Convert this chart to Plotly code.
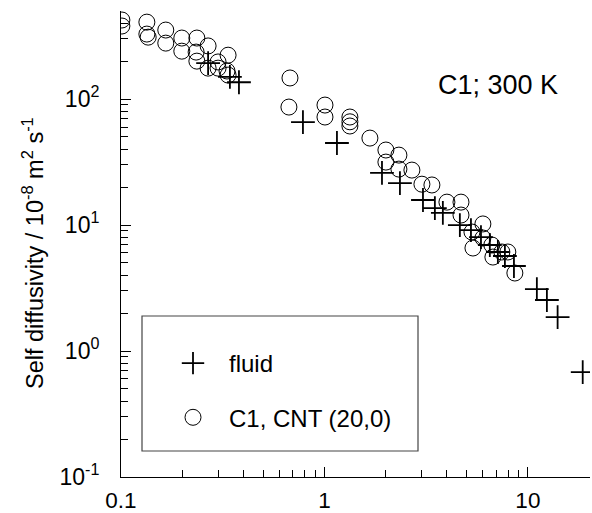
import plotly.graph_objects as go
import numpy as np

# fluid (bulk) data
fluid_x = [0.268, 0.343, 0.380, 0.784, 1.152, 1.918, 2.35, 3.05, 3.49, 3.82, 4.63,
           5.25, 5.88, 6.50, 7.12, 7.71, 8.54, 11.07, 12.4, 14.0, 18.6]
fluid_y = [193, 150, 136, 65.7, 44.8, 25.9, 21.5, 15.8, 13.6, 12.5, 10.0,
           9.12, 8.03, 6.94, 6.11, 5.68, 4.73, 3.10, 2.54, 1.86, 0.68]

# C1 in CNT (20,0)
cnt_x = [0.101, 0.101, 0.134, 0.134, 0.136, 0.166, 0.166, 0.199, 0.199, 0.236, 0.234,
         0.236, 0.268, 0.268, 0.300, 0.300, 0.336, 0.332, 0.336, 0.677, 0.669,
         1.006, 1.006, 1.334, 1.334, 1.334, 1.673, 2.005, 2.005, 2.323, 2.323, 2.691,
         3.014, 3.375, 4.00, 4.69, 4.69, 6.01, 5.31, 6.01, 5.37, 6.65, 6.73,
         7.45, 7.97, 8.63]
cnt_y = [424, 380, 408, 328, 310, 353, 278, 305, 240, 305, 236,
         200, 264, 176, 197, 176, 223, 167, 155, 147, 86.4,
         89.6, 72.0, 72.0, 66.0, 61.1, 49.0, 39.4, 31.6, 35.9, 27.8, 27.3,
         21.1, 20.8, 15.2, 15.2, 12.0, 10.2, 8.80, 7.89, 6.57, 6.94, 5.57,
         6.11, 6.11, 4.16]

x_tickvals = [0.1, 1, 10]
x_ticktext = ["0.1", "1", "10"]
y_tickvals = [0.1, 1, 10, 100]
y_ticktext = ["10<sup>-1</sup>", "10<sup>0</sup>", "10<sup>1</sup>", "10<sup>2</sup>"]

FONT = "Arial, Liberation Sans, sans-serif"

# plot area in pixels
L, R, T, B = 121, 590, 11, 477
W, H = R - L, B - T

fig = go.Figure()
fig.add_trace(go.Scatter(
    x=fluid_x, y=fluid_y, mode="markers", name="fluid", legendgroup="a",
    marker=dict(symbol="cross-thin-open", size=17, color="black",
                line=dict(color="black", width=1.8)),
))
fig.add_trace(go.Scatter(
    x=cnt_x, y=cnt_y, mode="markers", name="C1, CNT (20,0)", legendgroup="b",
    marker=dict(symbol="circle-open", size=16, color="black",
                line=dict(color="black", width=1)),
))

minor_vals = []
for d in [0.1, 1, 10]:
    for k in range(2, 10):
        minor_vals.append(d * k)
yminor_vals = []
for d in [0.1, 1, 10, 100]:
    for k in range(2, 10):
        yminor_vals.append(d * k)

fig.update_xaxes(
    type="log", range=[-1, np.log10(20.2)],
    tickmode="array", tickvals=x_tickvals, ticktext=x_ticktext,
    ticks="inside", ticklen=10, tickwidth=1, tickcolor="black",
    minor=dict(ticks="inside", ticklen=7, tickwidth=1, tickcolor="black",
               tickmode="array", tickvals=minor_vals),
    showline=True, linecolor="black", linewidth=1,
    showgrid=False, zeroline=False, automargin=False,
    tickfont=dict(size=22.5, color="black", family=FONT),
    ticklabelstandoff=3,
)
fig.update_yaxes(
    type="log", range=[-1, np.log10(500)],
    tickmode="array", tickvals=y_tickvals, ticktext=y_ticktext,
    ticks="inside", ticklen=10, tickwidth=1, tickcolor="black",
    minor=dict(ticks="inside", ticklen=7, tickwidth=1, tickcolor="black",
               tickmode="array", tickvals=yminor_vals),
    showline=True, linecolor="black", linewidth=1,
    showgrid=False, zeroline=False, automargin=False,
    tickfont=dict(size=23, color="black", family=FONT),
    ticklabelstandoff=16,
)

fig.add_annotation(text="Self diffusivity / 10<sup>-8</sup> m<sup>2</sup> s<sup>-1</sup>",
                   xref="paper", yref="paper",
                   x=(33 - L) / W, y=(B - 253) / H, textangle=-90,
                   showarrow=False, xanchor="center", yanchor="middle",
                   font=dict(size=23.5, color="black", family=FONT))

fig.add_shape(type="rect", xref="paper", yref="paper",
              x0=(142 - L) / W, x1=(418 - L) / W,
              y0=(B - 451) / H, y1=(B - 316) / H,
              line=dict(color="#444", width=1.2), fillcolor="rgba(0,0,0,0)")

fig.add_annotation(text="C1; 300 K", xref="paper", yref="paper",
                   x=(498 - L) / W, y=(B - 85) / H,
                   showarrow=False, xanchor="center", yanchor="middle",
                   font=dict(size=27, color="black", family=FONT))

fig.update_layout(
    width=592, height=513,
    margin=dict(l=L, r=592 - R, t=T, b=513 - B),
    plot_bgcolor="white", paper_bgcolor="white",
    showlegend=True,
    legend=dict(x=(157 - L) / W, y=(B - 341) / H, xanchor="left", yanchor="top",
                font=dict(size=24, color="black", family=FONT),
                bgcolor="rgba(0,0,0,0)", borderwidth=0,
                tracegroupgap=20, itemwidth=62, traceorder="grouped"),
    font=dict(family=FONT, color="black"),
)

fig.write_html("out.html")
